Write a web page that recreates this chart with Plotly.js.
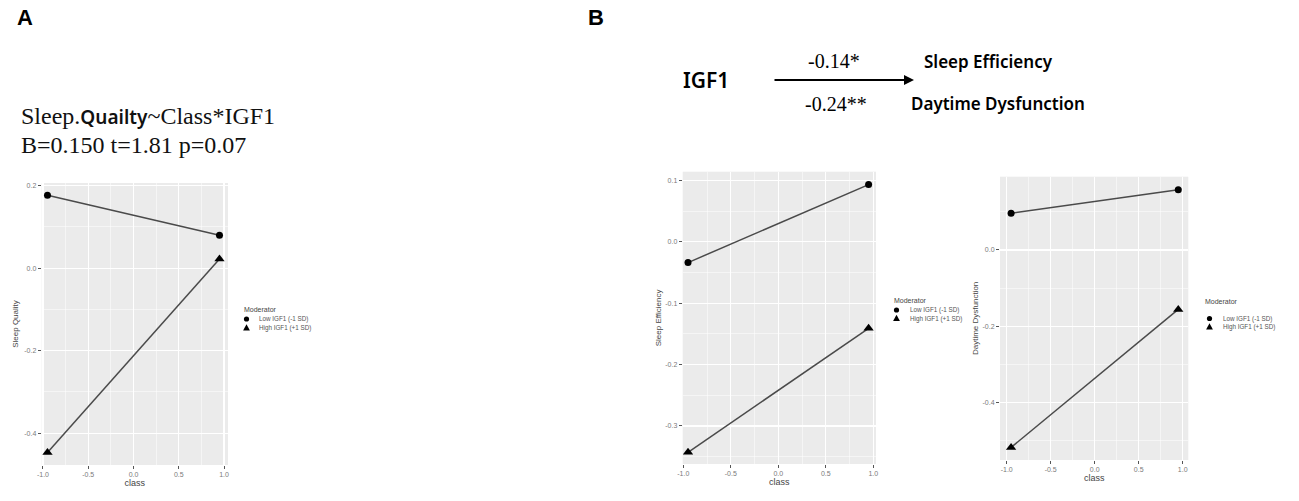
<!DOCTYPE html>
<html><head><meta charset="utf-8">
<script src="https://cdn.plot.ly/plotly-3.0.1.min.js"></script>
<style>html,body{margin:0;padding:0;background:#fff;}#chart{width:1299px;height:501px;}</style>
</head><body><div id="chart"></div>
<script>
// ---- data ----
const classValues = [-0.95, 0.95];
const moderatorLevels = ['Low IGF1 (-1 SD)', 'High IGF1 (+1 SD)'];
const sleepQualityLow = [0.177, 0.080];
const sleepQualityHigh = [-0.447, 0.022];
const sleepEfficiencyLow = [-0.034, 0.093];
const sleepEfficiencyHigh = [-0.343, -0.141];
const daytimeDysfunctionLow = [0.096, 0.158];
const daytimeDysfunctionHigh = [-0.518, -0.156];
const classTickVals = [-1, -0.5, 0, 0.5, 1];
const classTickText = ['-1.0', '-0.5', '0.0', '0.5', '1.0'];
const sqTickVals = [-0.4, -0.2, 0, 0.2];
const sqTickText = ['-0.4', '-0.2', '0.0', '0.2'];
const seTickVals = [-0.3, -0.2, -0.1, 0, 0.1];
const seTickText = ['-0.3', '-0.2', '-0.1', '0.0', '0.1'];
const ddTickVals = [-0.4, -0.2, 0];
const ddTickText = ['-0.4', '-0.2', '0.0'];
const pathCoefficients = ['-0.14*', '-0.24**'];
const outcomeNames = ['Sleep Efficiency', 'Daytime Dysfunction'];

// ---- helpers (pixel -> paper) ----
const W = 1299, H = 501;
const X = px => px / W;
const Y = py => 1 - py / H;
const SANS = 'Liberation Sans, Arial, sans-serif';
const SERIF = 'Liberation Serif, Times New Roman, serif';

function pair(xa, ya, low, high) {
  return [
    {x: classValues, y: low, xaxis: xa, yaxis: ya, mode: 'lines+markers', name: moderatorLevels[0],
     line: {color: '#4a4a4a', width: 1.5}, marker: {symbol: 'circle', size: 7, color: '#000'}, showlegend: false},
    {x: classValues, y: high, xaxis: xa, yaxis: ya, mode: 'lines+markers', name: moderatorLevels[1],
     line: {color: '#4a4a4a', width: 1.5}, marker: {symbol: 'triangle-up', size: 9, color: '#000'}, showlegend: false}
  ];
}
const data = [].concat(
  pair('x', 'y', sleepQualityLow, sleepQualityHigh),
  pair('x2', 'y2', sleepEfficiencyLow, sleepEfficiencyHigh),
  pair('x3', 'y3', daytimeDysfunctionLow, daytimeDysfunctionHigh)
);

function xAxis(dom, rng, anchor) {
  return {domain: dom, range: rng, anchor: anchor, tickmode: 'array', tickvals: classTickVals, ticktext: classTickText,
    ticks: 'outside', ticklen: 3, tickwidth: 1, tickcolor: '#555',
    tickfont: {size: 7, color: '#7a7a7a', family: SANS},
    showgrid: true, gridcolor: '#ffffff', gridwidth: 1.2, zeroline: false, showline: false,
    minor: {tickmode: 'linear', tick0: 0, dtick: 0.25, showgrid: true, gridcolor: '#ffffff', gridwidth: 0.5, ticks: ''},
    title: {text: 'class', font: {size: 9, color: '#444', family: SANS}, standoff: 2}};
}
function yAxis(dom, rng, anchor, tv, tt, minorDt, title, standoff) {
  return {domain: dom, range: rng, anchor: anchor, tickmode: 'array', tickvals: tv, ticktext: tt,
    ticks: 'outside', ticklen: 3, tickwidth: 1, tickcolor: '#555',
    tickfont: {size: 7, color: '#7a7a7a', family: SANS},
    showgrid: true, gridcolor: '#ffffff', gridwidth: 1.2, zeroline: false, showline: false,
    minor: {tickmode: 'linear', tick0: 0, dtick: minorDt, showgrid: true, gridcolor: '#ffffff', gridwidth: 0.5, ticks: ''},
    title: {text: title, font: {size: 8, color: '#444', family: SANS}, standoff: standoff}};
}

const annotations = [];
const shapes = [];
function txt(text, px, py, font, opts) {
  annotations.push(Object.assign({text: text, x: X(px), y: Y(py), xref: 'paper', yref: 'paper',
    showarrow: false, xanchor: 'left', yanchor: 'middle', font: font}, opts || {}));
}
// panel letters
txt('<b>A</b>', 15, 17, {size: 22, family: SANS, color: '#000'});
txt('<b>B</b>', 586, 18, {size: 22, family: SANS, color: '#000'});
// panel A heading
txt('Sleep.<span style="font-family:Noto Sans;font-weight:600;font-size:19px">Quailty</span>~Class*IGF1', 19, 117,
    {size: 24, family: SERIF, color: '#111'});
txt('B=0.150 t=1.81 p=0.07', 19, 145, {size: 24, family: SERIF, color: '#111'});
// panel B path diagram
const DIAG = {family: 'Noto Sans', color: '#000', weight: 600};
txt('IGF1', 681, 80, Object.assign({size: 21}, DIAG));
txt(pathCoefficients[0], 834, 61, {size: 20, family: SERIF, color: '#000'}, {xanchor: 'center'});
txt(pathCoefficients[1], 836, 104, {size: 20, family: SERIF, color: '#000'}, {xanchor: 'center'});
txt(outcomeNames[0], 922, 61, Object.assign({size: 17}, DIAG));
txt(outcomeNames[1], 909, 104, Object.assign({size: 17}, DIAG));
annotations.push({text: '', x: X(914), y: Y(80), xref: 'paper', yref: 'paper', ax: X(773), ay: Y(80), axref: 'paper', ayref: 'paper',
  showarrow: true, arrowhead: 2, arrowsize: 1, arrowwidth: 2, arrowcolor: '#000'});

// legends
function legend(px, titleY, y1, y2, keyX, textX) {
  txt('Moderator', px, titleY, {size: 7, family: SANS, color: '#444'});
  txt(moderatorLevels[0], textX, y1, {size: 6.3, family: SANS, color: '#555'});
  txt(moderatorLevels[1], textX, y2, {size: 6.3, family: SANS, color: '#555'});
  const r = 2.6;
  shapes.push({type: 'circle', xref: 'paper', yref: 'paper', x0: X(keyX - r), x1: X(keyX + r), y0: Y(y1 + r), y1: Y(y1 - r),
    fillcolor: '#000', line: {width: 0}});
  const t = 3.4;
  shapes.push({type: 'path', xref: 'paper', yref: 'paper',
    path: `M ${X(keyX - t)} ${Y(y2 + t * 0.75)} L ${X(keyX + t)} ${Y(y2 + t * 0.75)} L ${X(keyX)} ${Y(y2 - t * 1.1)} Z`,
    fillcolor: '#000', line: {width: 0}});
}
legend(242, 309, 319, 328, 246.5, 257);
legend(892, 300.5, 310, 318.5, 896.5, 908);
legend(1203, 301.5, 318.5, 327, 1209.5, 1221);

const layout = {
  width: W, height: H, margin: {l: 0, r: 0, t: 0, b: 0}, showlegend: false,
  paper_bgcolor: '#ffffff', plot_bgcolor: '#ebebeb',
  font: {family: SANS},
  xaxis: xAxis([X(41.7), X(228)], [-1.014, 1.044], 'y'),
  yaxis: yAxis([Y(465), Y(183)], [-0.477, 0.2065], 'x', sqTickVals, sqTickText, 0.1, 'Sleep Quality', 4),
  xaxis2: xAxis([X(682.7), X(876)], [-1.006, 1.028], 'y2'),
  yaxis2: yAxis([Y(464), Y(171.7)], [-0.362, 0.114], 'x2', seTickVals, seTickText, 0.05, 'Sleep Efficiency', 2),
  xaxis3: xAxis([X(1000), X(1188.3)], [-1.076, 1.064], 'y3'),
  yaxis3: yAxis([Y(460), Y(176.7)], [-0.551, 0.192], 'x3', ddTickVals, ddTickText, 0.1, 'Daytime Dysfunction', 2),
  annotations: annotations, shapes: shapes
};
Plotly.newPlot('chart', data, layout, {displayModeBar: false, staticPlot: true});
</script></body></html>
